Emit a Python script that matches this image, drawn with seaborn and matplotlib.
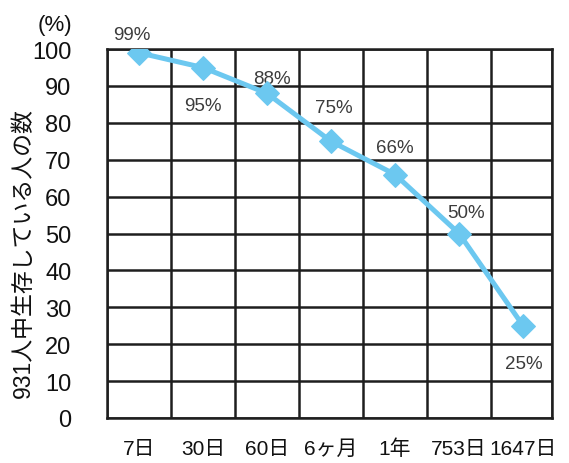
import matplotlib
matplotlib.use("Agg")
import matplotlib.pyplot as plt
import seaborn as sns
import pandas as pd
import numpy as np

# Survival data
periods = ["7日", "30日", "60日", "6ヶ月", "1年", "753日", "1647日"]
survival = [99, 95, 88, 75, 66, 50, 25]
value_labels = ["99%", "95%", "88%", "75%", "66%", "50%", "25%"]
yticks = [0, 10, 20, 30, 40, 50, 60, 70, 80, 90, 100]

sns.set_theme(style="white")
plt.rcParams["font.family"] = ["Liberation Sans", "Noto Sans CJK JP", "DejaVu Sans"]

df = pd.DataFrame({"pos": np.arange(len(periods)), "value": survival})

fig = plt.figure(figsize=(5.69, 4.64), dpi=100)
ax = fig.add_axes([0.188, 0.097, 0.782, 0.795])

line_color = "#6CC8F0"
grid_color = "#1e1e1e"

sns.lineplot(data=df, x="pos", y="value", ax=ax, color=line_color,
             linewidth=3.6, marker="D", markersize=12,
             markeredgecolor=line_color, zorder=5)

ax.set_xlim(-0.5, 6.45)
ax.set_ylim(0, 100)

# Category labels centred on the points, cell boundaries as grid lines
ax.set_xticks(df["pos"])
ax.set_xticklabels(periods, fontsize=15, color="#111111")
bounds = list(np.arange(-0.5, 6.0, 1.0)) + [6.45]
ax.set_xticks(bounds, minor=True)
ax.tick_params(axis="x", which="major", length=0, pad=15)
ax.tick_params(axis="x", which="minor", length=10, width=1.8, color=grid_color)

ax.set_yticks(yticks)
ax.set_yticklabels([str(v) for v in yticks], fontsize=17, color="#111111")
ax.tick_params(axis="y", which="major", length=8.5, width=1.8,
               color=grid_color, pad=17)

ax.grid(True, axis="y", which="major", color=grid_color, linewidth=1.8)
ax.grid(True, axis="x", which="minor", color=grid_color, linewidth=1.8)
ax.grid(False, axis="x", which="major")
for sp in ax.spines.values():
    sp.set_visible(True)
    sp.set_color(grid_color)
    sp.set_linewidth(1.8)

ax.set_xlabel("")
ax.set_ylabel("931人中生存している人の数", fontsize=16.5, color="#111111")
ax.yaxis.set_label_coords(-0.163, 0.45)

# Percentage annotations (above or below each point)
offsets = [(-7, 18), (0, -38), (5, 15), (3, 34), (0, 27), (7, 21), (1, -38)]
for i, (lab, (dx, dy)) in enumerate(zip(value_labels, offsets)):
    ax.annotate(lab, (i, survival[i]), xytext=(dx, dy), textcoords="offset pixels",
                ha="center", va="center", fontsize=13.5, color="#3c3c3c",
                annotation_clip=False)

fig.text(0.067, 0.946, "(%)", fontsize=16, color="#111111", ha="left", va="center")

fig.savefig("out.png", dpi=100)
